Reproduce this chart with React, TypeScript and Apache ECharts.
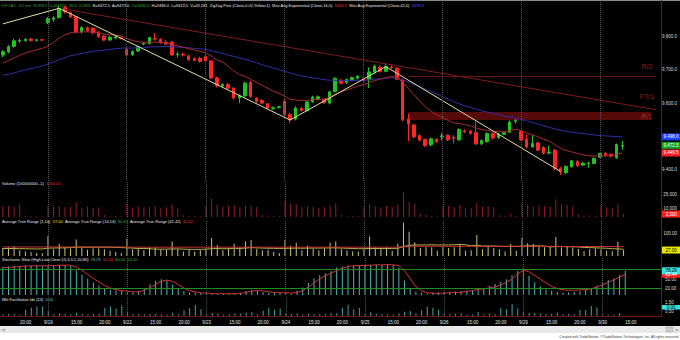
import React, { useEffect, useRef } from 'react';
import * as echarts from 'echarts';

const FONT = '"Liberation Sans", Arial, sans-serif';

// ---- time axis ----
const sessionDays = ['9/18', '9/19', '9/22', '9/23', '9/24', '9/25', '9/26', '9/29', '9/30'];
const sessionHours = ['10:00', '11:00', '12:00', '13:00', '14:00', '15:00', '16:00', '17:00', '18:00', '19:00', '20:00', '21:00', '22:00', '23:00'];
const allSlots: string[] = [];
for (const d of sessionDays) for (const h of sessionHours) allSlots.push(d + ' ' + h);
const categories = allSlots.slice(6, 6 + 117);
const dayStartIdx = [8, 22, 36, 50, 64, 78, 92, 106];

// ---- price bars (60 min) ----
const opens = [
  9745, 9755, 9771, 9787, 9789, 9793, 9789, 9791,
  9842, 9853, 9858, 9888, 9873, 9861, 9815, 9827, 9826, 9813, 9802, 9790, 9796, 9797,
  9762, 9746, 9757, 9778, 9780, 9795, 9792, 9784, 9784, 9746, 9747, 9742, 9734, 9735,
  9740, 9727, 9676, 9652, 9656, 9645, 9616, 9622, 9662, 9615, 9608, 9598, 9583, 9587,
  9606, 9566, 9552, 9584, 9578, 9604, 9612, 9610, 9600, 9635, 9668, 9662, 9670, 9675,
  9674, 9670, 9694, 9709, 9696, 9709, 9705, 9670, 9552, 9534, 9502, 9490, 9474, 9490,
  9498, 9503, 9497, 9489, 9516, 9515, 9511, 9477, 9484, 9508, 9496, 9506, 9512, 9545,
  9514, 9490, 9468, 9480, 9466, 9449, 9458, 9403, 9390, 9408, 9424, 9413, 9417, 9418,
  9437, 9449, 9445, 9435, 9470,
];
const highs = [
  9760, 9775, 9795, 9795, 9796, 9797, 9794, 9794,
  9860, 9862, 9892, 9894, 9876, 9864, 9832, 9831, 9829, 9818, 9806, 9803, 9803, 9800,
  9768, 9759, 9773, 9784, 9800, 9811, 9796, 9790, 9788, 9755, 9752, 9746, 9738, 9740,
  9745, 9730, 9680, 9660, 9661, 9648, 9626, 9664, 9667, 9618, 9612, 9600, 9590, 9591,
  9612, 9570, 9590, 9588, 9606, 9622, 9623, 9613, 9637, 9678, 9672, 9674, 9680, 9684,
  9677, 9708, 9716, 9714, 9718, 9716, 9708, 9674, 9568, 9538, 9506, 9493, 9496, 9494,
  9510, 9506, 9503, 9524, 9522, 9519, 9544, 9490, 9512, 9512, 9510, 9514, 9548, 9552,
  9518, 9505, 9503, 9484, 9470, 9472, 9462, 9408, 9413, 9429, 9428, 9422, 9423, 9436,
  9450, 9452, 9448, 9478, 9486,
];
const lows = [
  9738, 9750, 9767, 9781, 9785, 9786, 9786, 9787,
  9838, 9846, 9855, 9870, 9856, 9810, 9810, 9815, 9808, 9797, 9787, 9788, 9793, 9792,
  9740, 9742, 9754, 9774, 9777, 9788, 9779, 9775, 9742, 9738, 9741, 9728, 9726, 9722,
  9725, 9672, 9647, 9646, 9641, 9611, 9600, 9618, 9616, 9601, 9597, 9582, 9580, 9584,
  9562, 9540, 9548, 9574, 9575, 9601, 9608, 9598, 9596, 9632, 9656, 9658, 9666, 9672,
  9664, 9645, 9690, 9692, 9693, 9703, 9669, 9545, 9485, 9494, 9484, 9468, 9470, 9480,
  9488, 9485, 9478, 9486, 9510, 9505, 9474, 9473, 9480, 9490, 9492, 9503, 9510, 9538,
  9486, 9465, 9465, 9455, 9445, 9446, 9398, 9383, 9386, 9405, 9408, 9410, 9405, 9415,
  9434, 9439, 9436, 9432, 9459,
];
const closes = [
  9755, 9770, 9788, 9789, 9792, 9789, 9791, 9790,
  9855, 9857, 9886, 9875, 9860, 9815, 9828, 9819, 9812, 9800, 9790, 9799, 9800, 9795,
  9745, 9756, 9770, 9780, 9798, 9793, 9782, 9778, 9745, 9748, 9745, 9731, 9729, 9726,
  9728, 9676, 9652, 9656, 9645, 9615, 9623, 9660, 9620, 9605, 9600, 9585, 9586, 9589,
  9565, 9549, 9585, 9578, 9603, 9618, 9619, 9601, 9634, 9675, 9660, 9671, 9677, 9681,
  9668, 9694, 9712, 9695, 9710, 9707, 9672, 9550, 9537, 9498, 9488, 9472, 9492, 9484,
  9501, 9489, 9494, 9520, 9514, 9509, 9477, 9487, 9508, 9495, 9507, 9511, 9543, 9547,
  9489, 9468, 9478, 9458, 9449, 9452, 9402, 9394, 9409, 9426, 9411, 9419, 9419, 9433,
  9448, 9442, 9440, 9475, 9472.5,
];

// ---- moving averages ----
const ema14 = [
  9721, 9728, 9737, 9744, 9751, 9756, 9761, 9765,
  9772, 9783, 9796, 9806, 9812, 9813, 9815, 9815, 9814, 9812, 9808, 9806, 9805, 9803,
  9795, 9789, 9785, 9783, 9784, 9784, 9783, 9782, 9777, 9773, 9769, 9764, 9760, 9756,
  9752, 9742, 9730, 9724, 9711, 9697, 9686, 9681, 9672, 9663, 9654, 9645, 9636, 9630,
  9621, 9612, 9609, 9608, 9608, 9610, 9612, 9612, 9617, 9627, 9633, 9639, 9645, 9651,
  9656, 9661, 9668, 9672, 9677, 9680, 9678, 9662, 9644, 9625, 9607, 9589, 9576, 9565,
  9557, 9548, 9541, 9538, 9535, 9532, 9525, 9520, 9518, 9515, 9514, 9513, 9517, 9521,
  9517, 9510, 9505, 9498, 9491, 9486, 9475, 9464, 9457, 9453, 9448, 9444, 9441, 9440,
  9441, 9441, 9441, 9446, 9449.5,
];
const ema42 = [
  9684, 9687, 9691, 9696, 9700, 9704, 9708, 9712,
  9718, 9724, 9731, 9737, 9743, 9746, 9750, 9753, 9756, 9758, 9760, 9762, 9764, 9766,
  9766, 9766, 9767, 9768, 9769, 9770, 9770, 9771, 9770, 9769, 9768, 9767, 9765, 9764,
  9762, 9758, 9754, 9750, 9745, 9741, 9736, 9732, 9727, 9722, 9716, 9711, 9706, 9701,
  9696, 9691, 9686, 9682, 9679, 9676, 9674, 9671, 9669, 9669, 9668, 9668, 9668, 9669,
  9669, 9670, 9672, 9673, 9675, 9676, 9676, 9670, 9664, 9657, 9650, 9642, 9635, 9628,
  9620, 9612, 9605, 9598, 9592, 9587, 9582, 9577, 9573, 9569, 9565, 9561, 9558, 9555,
  9551, 9546, 9542, 9537, 9532, 9527, 9522, 9518, 9515, 9512, 9510, 9508, 9506, 9504,
  9502, 9501, 9500, 9499, 9498,
];

// ---- drawings ----
const zigzagIdx = [0, 10, 51, 68, 99];
const zigzagVal = [9839, 9886, 9549, 9710, 9394];
const trendIdx = [11, 116];
const trendVal = [9883, 9580];
const r2Idx = [72, 116];
const r2Level = 9680;
const r1Idx = [72, 115];
const r1Top = 9573;
const r1Bottom = 9549;

// ---- volume ----
const volume = [
  12000, 12500, 11000, 14500, 1800, 1200, 900, 700,
  13000, 11500, 12500, 11000, 11200, 17000, 10500, 11800, 10200, 11000, 2200, 1500, 1100, 800,
  15000, 11000, 11500, 10800, 11200, 12000, 10500, 11000, 14000, 10000, 2000, 1400, 1000, 900,
  12500, 21000, 14000, 11500, 12000, 13500, 11000, 12500, 13000, 11500, 2500, 1800, 1200, 900,
  18000, 15000, 14000, 11000, 12000, 11500, 10500, 11000, 13000, 15500, 2300, 1500, 1000, 800,
  12000, 14500, 12000, 11000, 12500, 11000, 14000, 28000, 17000, 15000, 3500, 2200, 1500, 1200,
  13000, 12500, 11000, 13500, 10000, 10500, 16000, 11500, 12000, 11000, 2000, 1600, 3500, 1000,
  15500, 14000, 12000, 13000, 12500, 11500, 20000, 14000, 13500, 12000, 2800, 1800, 1500, 1200,
  13500, 11000, 10500, 14500, 3300,
];

// ---- average true range ----
const trueRange = [
  36, 40, 44, 26, 20, 18, 14, 12,
  90, 30, 55, 38, 34, 75, 36, 28, 34, 34, 30, 24, 18, 14,
  78, 30, 32, 26, 38, 38, 30, 28, 66, 30, 20, 28, 20, 26,
  34, 82, 50, 26, 34, 55, 40, 66, 72, 32, 26, 28, 18, 14,
  72, 46, 60, 26, 46, 34, 26, 34, 60, 66, 30, 26, 22, 20,
  30, 88, 40, 36, 40, 24, 56, 150, 110, 62, 36, 40, 40, 24,
  42, 36, 40, 56, 24, 26, 95, 30, 48, 36, 30, 20, 55, 24,
  82, 58, 55, 44, 40, 42, 86, 40, 42, 38, 32, 22, 30, 34,
  30, 24, 22, 64, 27,
];
const atr14 = [
  34, 34, 34, 33, 33, 32, 32, 32,
  36, 36, 37, 37, 38, 40, 40, 39, 40, 40, 40, 40, 39, 38,
  37, 36, 34, 34, 33, 31, 31, 31, 32, 32, 31, 30, 30, 30,
  31, 33, 34, 33, 33, 35, 34, 36, 38, 37, 36, 35, 35, 34,
  35, 35, 36, 35, 36, 36, 36, 36, 37, 37, 36, 35, 34, 33,
  33, 34, 34, 34, 34, 34, 35, 43, 48, 50, 50, 50, 51, 50,
  50, 50, 51, 52, 51, 46, 49, 45, 45, 45, 44, 43, 44, 43,
  45, 46, 46, 46, 45, 41, 43, 43, 42, 42, 41, 39, 38, 37,
  36, 35, 33, 32, 30.67,
];
const atr42 = [
  41, 41, 41, 41, 41, 41, 41, 41,
  41, 41, 41, 41, 41, 41, 41, 41, 41, 41, 41, 41, 41, 41,
  40, 40, 40, 40, 40, 40, 40, 40, 40, 40, 40, 40, 40, 40,
  40, 40, 40, 40, 40, 40, 40, 40, 40, 40, 40, 40, 40, 40,
  40, 40, 40, 40, 40, 40, 40, 40, 40, 40, 40, 40, 40, 40,
  40, 40, 40, 40, 40, 40, 40, 42, 44, 44, 44, 44, 44, 44,
  44, 44, 44, 44, 44, 44, 44, 44, 44, 44, 44, 44, 44, 44,
  44, 44, 44, 44, 44, 44, 44, 43, 43, 43, 43, 43, 43, 43,
  43, 43, 42.5, 42.5, 42.42,
];

// ---- stochastic slow ----
const slowK = [
  88, 90, 92, 92, 93, 92, 92, 91,
  93, 94, 95, 94, 92, 78, 64, 52, 40, 30, 21, 16, 14, 13,
  9, 8, 13, 22, 34, 45, 50, 46, 32, 20, 13, 9, 7, 6,
  6, 4, 3, 4, 5, 4, 7, 13, 16, 13, 9, 7, 7, 8,
  6, 4, 14, 24, 38, 53, 62, 68, 76, 87, 90, 92, 93, 94,
  93, 95, 96, 95, 96, 95, 87, 46, 22, 10, 7, 5, 8, 8,
  9, 10, 11, 12, 14, 15, 20, 22, 28, 35, 42, 50, 62, 76,
  85, 60, 40, 27, 18, 14, 10, 8, 9, 10, 12, 16, 22, 30,
  38, 47, 53, 63, 76.29,
];
const slowD = [
  86, 87, 88, 90, 91, 92, 92, 92,
  92, 93, 94, 94, 94, 88, 78, 65, 52, 41, 30, 22, 17, 14,
  12, 10, 10, 14, 23, 34, 43, 47, 43, 33, 22, 14, 10, 7,
  6, 5, 4, 4, 4, 4, 5, 8, 12, 14, 13, 10, 8, 7,
  7, 6, 8, 14, 25, 38, 51, 61, 69, 77, 84, 90, 92, 93,
  93, 94, 95, 95, 96, 95, 93, 76, 52, 26, 13, 7, 6, 5,
  6, 7, 8, 9, 11, 14, 17, 20, 22, 26, 31, 40, 50, 66,
  79, 73, 62, 50, 38, 27, 20, 16, 15, 15, 16, 17, 20, 25,
  32, 40, 48, 57, 65.44,
];
const stochLevels = [80, 20];

// ---- market facilitation index ----
const mfi = [
  0.18, 0.2, 0.24, 0.12, 0.72, 0.95, 1.05, 1.1,
  0.55, 0.18, 0.3, 0.24, 0.18, 0.36, 0.24, 0.15, 0.2, 0.24, 0.95, 1.1, 0.85, 1.2,
  0.42, 0.18, 0.2, 0.15, 0.24, 0.2, 0.18, 0.15, 0.36, 0.18, 0.65, 0.9, 1.25, 0.78,
  0.18, 0.3, 0.27, 0.12, 0.18, 0.3, 0.24, 0.36, 0.42, 0.18, 0.6, 0.95, 0.72, 0.85,
  0.3, 0.2, 0.3, 0.15, 0.27, 0.18, 0.18, 0.2, 0.33, 0.3, 0.95, 1.3, 0.78, 0.9,
  0.15, 0.42, 0.24, 0.2, 0.18, 0.12, 0.3, 0.48, 0.55, 0.3, 0.65, 1.05, 0.95, 0.72,
  0.2, 0.18, 0.24, 0.3, 0.12, 0.15, 0.45, 0.15, 0.24, 0.18, 0.9, 0.78, 1.35, 0.85,
  0.42, 0.3, 0.33, 0.24, 0.2, 0.24, 0.36, 0.18, 0.2, 0.18, 0.72, 0.65, 1.15, 1.0,
  0.12, 0.12, 0.12, 0.3, 0.0,
];

// ---- texts ----
const symbolText = '@FDAX - 60 min  EUREX';
const quoteClose = 'C=9472.5  40.5  0.43%';
const quoteBidAsk = 'B=9472.5  A=9473.0';
const quoteOpen = 'O=9435.0';
const quoteHLV = 'H=9486.0  L=9413.5  V=43,181';
const zigzagName = 'ZigZag Pnts (Close,0.02,Yellow,1)';
const ema14Name = 'Mov Avg Exponential (Close,14,0)';
const ema42Name = 'Mov Avg Exponential (Close,42,0)';
const priceTicks = [9400, 9500, 9600, 9700, 9800];
const volumeTicks = [10000, 25000];
const atrTicks = [100];
const stochTicks = [20, 50, 80];
const mfiTicks = [0.5, 1.5];
const footerText = 'Created with TradeStation. \u00A9TradeStation Technologies, Inc. All rights reserved.';

const fmt = (v: number, d: number) =>
  v.toLocaleString('en-US', { minimumFractionDigits: d, maximumFractionDigits: d });
const near = (v: number, list: number[]) => list.some((t) => Math.abs(v - t) < 1e-6);

export default function App() {
  const ref = useRef<HTMLDivElement>(null);

  useEffect(() => {
    const el = ref.current;
    if (!el) return;
    const chart = echarts.init(el, undefined, { renderer: 'svg' });

    const candle = opens.map((o, i) => [o, closes[i], lows[i], highs[i]]);
    const pairs = (idx: number[], vals: number[]) => idx.map((x, k) => [x, vals[k]]);
    const dayLines = dayStartIdx.map((i) => ({ xAxis: categories[i] }));
    const dayMark = {
      silent: true,
      symbol: ['none', 'none'],
      label: { show: false },
      lineStyle: { color: '#575757', type: 'dotted', width: 1 },
      data: dayLines,
    };

    const grids = [
      { top: 0, height: 181 },
      { top: 181, height: 36 },
      { top: 220, height: 36 },
      { top: 258, height: 37 },
      { top: 297, height: 18.8 },
    ].map((g) => ({ left: 0, right: 18, top: g.top, height: g.height, show: false }));

    const xAxes = grids.map((_, k) => ({
      type: 'category',
      gridIndex: k,
      data: categories,
      boundaryGap: true,
      axisLine: { show: k === 4, lineStyle: { color: '#741515', width: 1 } },
      axisTick: { show: false },
      splitLine: { show: false },
      axisLabel:
        k === 4
          ? {
              show: true,
              interval: 0,
              color: '#e2e2e2',
              fontSize: 4.5,
              fontFamily: FONT,
              margin: 4,
              formatter: (value: string, index: number) => {
                if (index > 112) return '';
                const parts = value.split(' ');
                if (parts[1] === '10:00') return parts[0];
                if (parts[1] === '15:00' || parts[1] === '20:00') return parts[1];
                return '';
              },
            }
          : { show: false },
    }));

    const yBase = (k: number, extra: any, labelFmt: (v: number) => string) => ({
      type: 'value',
      gridIndex: k,
      position: 'right',
      axisLine: { show: false },
      axisTick: { show: false },
      splitLine: { show: false },
      axisLabel: { color: '#d8d8d8', fontSize: 4.5, fontFamily: FONT, margin: 3, formatter: labelFmt },
      ...extra,
    });

    const yAxes = [
      yBase(0, { min: 9365, max: 9911 }, (v) => (near(v, priceTicks) ? fmt(v, 1) : '')),
      yBase(1, { min: 0, max: 40600, interval: 5000 }, (v) => (near(v, volumeTicks) ? fmt(v, 0) : '')),
      yBase(2, { min: 0, max: 163, interval: 50 }, (v) => (near(v, atrTicks) ? fmt(v, 2) : '')),
      yBase(3, { min: 0, max: 116.7, interval: 10 }, (v) => (near(v, stochTicks) ? fmt(v, 2) : '')),
      yBase(4, { min: 0, max: 2.2, interval: 0.5 }, (v) => (near(v, mfiTicks) ? fmt(v, 2) : '')),
    ];

    const line = (name: string, data: any[], color: string, xi: number) => ({
      name,
      type: 'line',
      xAxisIndex: xi,
      yAxisIndex: xi,
      data,
      showSymbol: false,
      symbol: 'none',
      silent: true,
      lineStyle: { color, width: 1 },
    });

    const bar = (name: string, data: number[], color: string, xi: number, mark: any) => ({
      name,
      type: 'bar',
      xAxisIndex: xi,
      yAxisIndex: xi,
      data,
      barWidth: 1,
      silent: true,
      itemStyle: { color },
      markLine: mark,
    });

    const option: any = {
      animation: false,
      backgroundColor: '#000000',
      textStyle: { fontFamily: FONT },
      grid: grids,
      xAxis: xAxes,
      yAxis: yAxes,
      series: [
        {
          name: 'price',
          type: 'candlestick',
          xAxisIndex: 0,
          yAxisIndex: 0,
          data: candle,
          barWidth: 3,
          silent: true,
          itemStyle: {
            color: '#20c420',
            color0: '#ff2626',
            borderColor: '#20c420',
            borderColor0: '#ff2626',
            borderWidth: 1,
          },
          markLine: dayMark,
          markArea: {
            silent: true,
            itemStyle: { color: '#560a0a' },
            data: [[{ xAxis: categories[r1Idx[0]], yAxis: r1Top }, { xAxis: categories[r1Idx[1]], yAxis: r1Bottom }]],
          },
        },
        line('ema42', ema42, '#2f2fa6', 0),
        line('ema14', ema14, '#a82c2c', 0),
        line('trend', pairs(trendIdx, trendVal), '#7c1c1c', 0),
        line('r2', pairs(r2Idx, [r2Level, r2Level]), '#6c1616', 0),
        line('zigzag', pairs(zigzagIdx, zigzagVal), '#e4dea2', 0),
        bar('volume', volume, '#931c2e', 1, dayMark),
        bar('tr', trueRange, '#cbc27e', 2, dayMark),
        line('atr14', atr14, '#b8b04a', 2),
        line('atr42', atr42, '#c83232', 2),
        bar('slowK', slowK, '#4db6b6', 3, {
          ...dayMark,
          data: [
            ...dayLines,
            ...stochLevels.map((v) => ({ yAxis: v, lineStyle: { color: '#1e8e1e', type: 'solid', width: 1 } })),
          ],
        }),
        line('slowD', slowD, '#d23232', 3),
        bar('mfi', mfi, '#3ba8a8', 4, dayMark),
      ],
    };

    chart.setOption(option);

    const py = (axis: number, v: number) => chart.convertToPixel({ yAxisIndex: axis } as any, v) as number;
    const txt = (x: number, y: number, text: string, fill: string, size = 4.5, align = 'left') => ({
      type: 'text',
      x,
      y,
      silent: true,
      z: 120,
      style: { text, fill, fontSize: size, fontFamily: FONT, align, verticalAlign: 'middle' },
    });
    const richStyles = (size: number) => {
      const mk = (fill: string) => ({ fill, fontSize: size, fontFamily: FONT });
      return {
        w: mk('#e6e6e6'),
        r: mk('#e23434'),
        y: mk('#e6e23a'),
        g: mk('#3fb83f'),
        c: mk('#55d0d0'),
        s: mk('#3c8c3c'),
        b: mk('#4a4aff'),
      };
    };
    const rich = (x: number, y: number, text: string, size: number) => ({
      type: 'text',
      x,
      y,
      silent: true,
      z: 120,
      style: {
        text,
        fontSize: size,
        fontFamily: FONT,
        verticalAlign: 'middle',
        fill: '#e6e6e6',
        rich: richStyles(size),
      },
    });
    const box = (cy: number, fill: string, label: string, color: string, h = 7) => [
      { type: 'rect', silent: true, z: 110, shape: { x: 662, y: cy - h / 2, width: 18, height: h }, style: { fill } },
      txt(671, cy, label, color, 4.5, 'center'),
    ];

    const lastEma42 = ema42[ema42.length - 1];
    const lastEma14 = ema14[ema14.length - 1];
    const lastClose = closes[closes.length - 1];
    const lastVol = volume[volume.length - 1];
    const lastTr = trueRange[trueRange.length - 1];
    const lastK = slowK[slowK.length - 1];
    const lastD = slowD[slowD.length - 1];
    const lastMfi = mfi[mfi.length - 1];

    const trendEndY = py(0, trendVal[1]);
    const r2Y = py(0, r2Level);
    const r1Y = (py(0, r1Top) + py(0, r1Bottom)) / 2;
    const mfiLabelHi = py(4, mfiTicks[1]);
    const mfiLabelLo = py(4, mfiTicks[0]);

    const header =
      '{s|' + symbolText + '}  {g|' + quoteClose + '}  {w|' + quoteBidAsk + '}  {g|' + quoteOpen + '}  {w|' +
      quoteHLV + '  ' + zigzagName + '  ' + ema14Name + '}  {r|' + lastEma14.toFixed(1) + '}  {w|' + ema42Name +
      '}  {b|' + lastEma42.toFixed(1) + '}';

    const elements: any[] = [
      {
        type: 'line',
        silent: true,
        z: 105,
        shape: { x1: 0, y1: 0.5, x2: 680, y2: 0.5 },
        style: { stroke: '#8a8a8a', lineWidth: 1 },
      },
      {
        type: 'line',
        silent: true,
        z: 105,
        shape: { x1: 661.5, y1: 0, x2: 661.5, y2: 316 },
        style: { stroke: '#7a1515', lineWidth: 1 },
      },
      rich(1, 5, header, 4.0),
      // drawing labels
      txt(647, r2Y - 10, 'R/2', '#8e1c1c', 7, 'center'),
      txt(647, trendEndY - 13, 'FTr1', '#8e1c1c', 7, 'center'),
      txt(647, r1Y, 'R/1', '#a23030', 7, 'center'),
      // lower panel headers
      rich(2, 183.5, '{w|Volume (100000000,-1)}  {r|' + lastVol.toFixed(2) + '}', 4),
      rich(
        2,
        221,
        '{w|Average True Range (1,14)}  {y|' + lastTr.toFixed(2) + '}  {w|Average True Range (14,14)}  {g|' +
          atr14[atr14.length - 1].toFixed(2) + '}  {w|Average True Range (42,42)}  {r|' + atr42[atr42.length - 1].toFixed(2) + '}',
        4
      ),
      rich(
        2,
        259.5,
        '{w|Stochastic Slow (High,Low,Close,14,3,3,1,20,80)}  {c|' + lastK.toFixed(2) + '}  {r|' + lastD.toFixed(2) +
          '}  {g|' + stochLevels[0].toFixed(2) + '}  {g|' + stochLevels[1].toFixed(2) + '}',
        4
      ),
      rich(2, 299, '{w|Mkt Facilitation Idx (14)}  {c|' + lastMfi.toFixed(2) + '}', 4),
      // axis value boxes
      ...box(py(0, lastEma42), '#1d3cff', fmt(lastEma42, 1), '#ffffff'),
      ...box(py(0, lastClose), '#17a317', fmt(lastClose, 1), '#ffffff'),
      ...box(py(0, lastEma14), '#ff2020', fmt(lastEma14, 1), '#ffffff'),
      ...box(py(1, lastVol), '#ff2020', fmt(lastVol, 0), '#ffffff'),
      ...box(py(2, lastTr), '#e6e600', fmt(lastTr, 2), '#000000'),
      ...box(py(3, lastD), '#ff2020', fmt(lastD, 2), '#ffffff'),
      ...box(py(3, lastK), '#33e0e0', fmt(lastK, 2), '#000000'),
      ...box((mfiLabelHi + mfiLabelLo) / 2, '#33e0e0', fmt(lastMfi, 2), '#000000', 4.6),
      // scrollbar & footer
      { type: 'rect', silent: true, z: 100, shape: { x: 0, y: 326, width: 680, height: 7 }, style: { fill: '#e9e9e9' } },
      { type: 'rect', silent: true, z: 101, shape: { x: 666, y: 327, width: 7, height: 5 }, style: { fill: '#cdcdcd', stroke: '#a0a0a0', lineWidth: 0.5 } },
      txt(2, 329.5, '<', '#444444', 6),
      txt(675, 329.5, '>', '#444444', 6),
      { type: 'rect', silent: true, z: 100, shape: { x: 0, y: 333, width: 680, height: 7 }, style: { fill: '#ffffff' } },
      txt(679, 336.5, footerText, '#3a3a3a', 3.4, 'right'),
    ];

    chart.setOption({ graphic: { elements } });

    return () => {
      chart.dispose();
    };
  }, []);

  return (
    <div
      ref={ref}
      style={{ position: 'fixed', left: 0, top: 0, width: 680, height: 340, background: '#000' }}
    />
  );
}
